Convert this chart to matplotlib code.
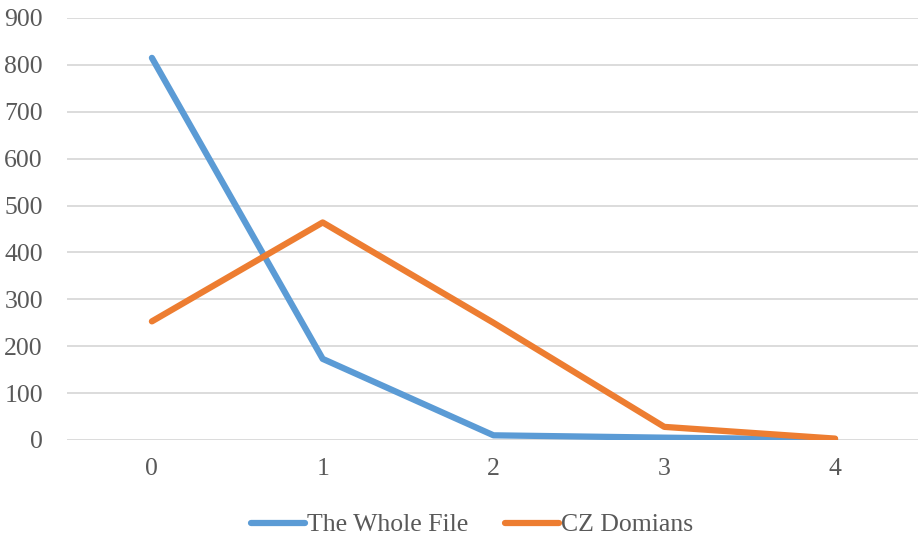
import matplotlib
matplotlib.use('Agg')
import matplotlib.pyplot as plt
from matplotlib.ticker import MultipleLocator

# Series values per category
categories = ['0', '1', '2', '3', '4']
whole_file = [815, 173, 10, 5, 1]
cz_domains = [253, 464, 250, 28, 3]
series_names = ['The Whole File', 'CZ Domians']

BLUE = '#5b9bd5'
ORANGE = '#ed7d31'
TEXT = '#595959'
GRID = '#d9d9d9'

plt.rcParams['font.family'] = ['Liberation Serif', 'DejaVu Serif']

W, H = 918, 538
fig = plt.figure(figsize=(W / 100, H / 100), dpi=100)
# axes box in pixel terms: x 66.5..920.5, y 18..440 from top
ax = fig.add_axes([66.5 / W, (H - 440) / H, 854 / W, 422 / H])

x = list(range(len(categories)))
ax.plot(x, whole_file, color=BLUE, lw=4.5, solid_capstyle='round',
        solid_joinstyle='round', label=series_names[0], zorder=3)
ax.plot(x, cz_domains, color=ORANGE, lw=4.5, solid_capstyle='round',
        solid_joinstyle='round', label=series_names[1], zorder=3)

ax.set_xlim(-0.5, len(categories) - 0.5)
ax.set_ylim(0, 900)
ax.yaxis.set_major_locator(MultipleLocator(100))
ax.set_xticks(x)
ax.set_xticklabels(categories)
ax.grid(axis='y', color=GRID, lw=1.3)
ax.set_axisbelow(True)
for side in ax.spines.values():
    side.set_visible(False)
ax.tick_params(length=0, labelsize=18.5, labelcolor=TEXT)
ax.tick_params(axis='y', pad=17)
ax.tick_params(axis='x', pad=13)

fig.legend(loc='center', bbox_to_anchor=(472 / W, 1 - 525 / H), ncol=2,
           frameon=False, fontsize=18.5, labelcolor=TEXT, handlelength=2.1,
           handletextpad=0.1, columnspacing=1.4)

fig.savefig('out.png', dpi=100)
